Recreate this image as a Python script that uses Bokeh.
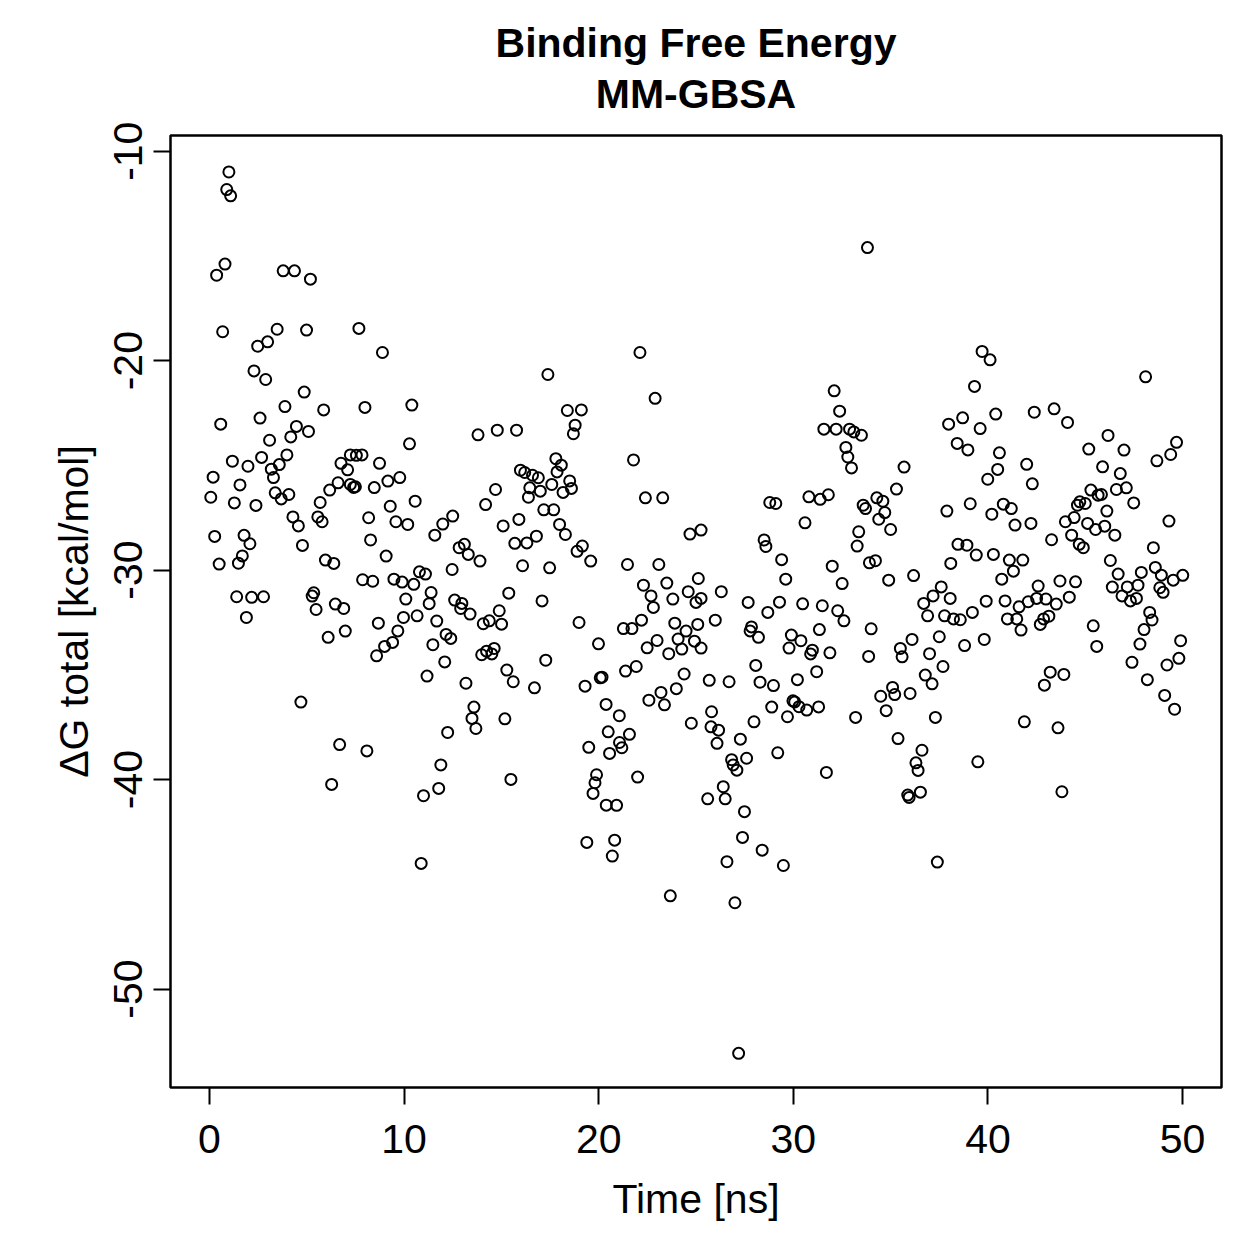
from bokeh.plotting import figure
from bokeh.models import Range1d, FixedTicker, Title
from bokeh.embed import file_html
from bokeh.resources import INLINE

time_ns = [
    1.0, 0.89, 1.09, 0.8, 0.37, 3.79, 4.37, 5.19, 0.68, 2.48,
    2.99, 3.48, 4.99, 7.68, 8.89, 2.29, 2.89, 4.87, 3.88, 5.87,
    7.99, 10.4, 0.58, 2.6, 4.47, 5.09, 4.18, 3.09, 10.28, 3.98,
    2.68, 1.18, 7.24, 7.55, 7.84, 6.76, 8.74,
    1.98, 3.18, 3.59, 3.29, 0.19, 1.57, 0.07, 1.28, 2.39, 3.38,
    3.69, 4.08, 7.1, 6.61, 7.24, 7.41, 7.5, 6.18, 8.47, 9.17,
    9.78, 10.57, 9.29, 5.69, 5.57, 5.79, 4.29, 4.57, 8.18, 9.58,
    10.19, 11.99, 11.58, 12.5, 0.27, 1.78, 2.08, 4.78, 8.28, 9.08,
    0.5, 1.69, 1.49, 5.96, 6.39, 7.87, 8.39, 9.48, 9.9, 10.5,
    10.79, 11.1, 12.47, 11.39, 11.29, 12.6, 1.4, 2.17, 2.78, 1.9,
    5.36, 5.28, 5.48, 6.47, 6.9, 10.09, 9.97, 10.67, 11.68, 12.16,
    12.4, 8.68, 9.68, 9.41, 9.0, 8.59, 11.48, 12.09, 11.18, 6.1,
    6.98, 4.7, 12.24, 6.69, 8.09, 11.89,
    6.28, 11.78, 11.0, 10.88,
    22.12, 17.39, 22.9, 18.39, 19.11, 18.79, 18.7, 13.8, 14.79, 15.78, 17.8, 21.79,
    18.08, 17.86, 15.98, 16.2, 16.6, 16.9, 17.59, 16.46, 17.0, 16.39,
    18.51, 18.6, 18.17, 14.7, 14.19, 17.18, 17.69, 15.9, 15.09, 17.99,
    18.29, 22.4, 23.29, 24.69, 25.26, 15.69, 16.31, 16.8, 12.83, 13.1,
    13.3, 13.9, 19.16, 18.89, 19.59, 16.09, 17.48, 21.48, 23.09, 15.38,
    17.09, 12.97, 12.91, 13.39, 14.07, 14.38, 14.89, 15.01, 18.99, 19.99,
    22.3, 22.69, 22.81, 23.5, 23.81, 24.6, 25.12, 25.0, 25.26, 22.2,
    21.27, 21.71, 23.91, 24.49, 25.09, 23.0, 22.49, 24.08, 24.27, 23.6,
    24.92, 25.26, 13.99, 14.24, 14.51, 14.63, 15.28, 15.61, 17.28, 13.18,
    16.7, 19.3, 20.08, 20.17, 21.38, 21.93, 24.39, 23.99, 22.58, 23.2,
    23.38, 24.76, 13.59, 13.49, 13.69, 15.18, 20.38, 21.06, 20.49, 21.58,
    21.07, 21.19, 19.49, 20.56,
    15.49, 19.89, 19.81, 19.71, 22.0, 20.39, 20.92, 19.39, 20.82, 20.7, 23.68,
    33.81, 32.1, 32.38, 31.57, 32.2, 32.89, 33.11, 33.5, 32.7, 32.8,
    32.99, 35.69, 35.3, 37.89, 28.79, 29.1, 30.8, 31.38, 31.8, 33.59,
    33.71, 34.29, 34.6, 34.7, 34.39, 35.0, 30.6, 33.36, 33.28, 28.5,
    28.59, 29.4, 33.91, 34.22, 32.0, 36.18, 34.9, 29.61, 32.51, 26.3,
    25.99, 27.68, 28.69, 29.29, 30.48, 31.49, 32.28, 32.6, 36.7, 37.18,
    37.6, 38.06, 36.9, 37.77, 27.85, 27.78, 28.21, 31.34, 34.0, 29.9,
    30.39, 29.78, 30.98, 30.89, 31.88, 36.1, 35.5, 35.59, 33.87, 37.5,
    37.0, 37.69, 28.07, 31.2, 25.68, 26.7, 28.29, 28.98, 30.21, 36.78,
    37.13, 35.1, 35.21, 34.49, 36.0, 34.77, 29.98, 30.07, 30.29, 30.69,
    31.3, 28.89, 29.7, 27.98, 25.8, 25.77, 26.16, 26.08, 27.28, 26.83,
    27.6, 29.2, 33.2, 37.3, 35.38, 36.61, 36.3,
    26.91, 27.1, 31.7, 26.4, 25.6, 26.5, 27.49, 27.39, 28.4, 26.59,
    29.49, 27.0, 27.19, 36.41, 35.88, 35.95, 36.53, 37.4,
    39.7, 40.11, 39.31, 48.1, 38.7, 37.98, 39.6, 40.4, 42.38, 43.4,
    44.09, 38.42, 38.97, 40.59, 45.18, 46.17, 46.99, 49.69, 49.39, 48.68,
    41.99,
    40.5, 39.99, 42.28, 45.89, 46.8, 46.6, 47.11, 47.49, 49.3, 39.09,
    40.2, 40.79, 41.2, 41.39, 42.21, 45.29, 45.66, 45.83, 44.72, 44.6,
    45.0, 46.11, 43.98, 44.43, 44.3, 45.12, 45.53, 46.0, 46.52, 43.27,
    44.69, 44.9, 48.5, 38.46, 38.92, 39.4, 40.28, 38.09, 41.1, 41.79,
    41.31, 40.71, 46.29, 46.69, 47.88, 48.6, 48.91, 49.52, 50.01, 42.58,
    43.7, 44.5, 46.39, 47.16, 47.71, 46.89, 47.32, 47.63, 48.83, 49.0,
    39.91, 40.88, 41.6, 42.07, 42.5, 42.98, 43.51, 44.18, 38.23, 38.58,
    39.2, 41.0, 41.48, 41.7, 42.69, 42.86, 43.13, 48.31, 48.43, 48.02,
    45.41, 38.8, 39.81, 45.59, 47.81, 49.9, 49.81, 49.2, 47.4, 43.2,
    43.9, 42.9, 48.19, 49.08, 49.59, 41.87, 43.6, 39.48, 43.8,
]

dg_total = [
    -10.99, -11.83, -12.13, -15.39, -15.92, -15.71, -15.71, -16.11, -18.62, -19.31,
    -19.10, -18.5, -18.54, -18.46, -19.61, -20.49, -20.9, -21.5, -22.19, -22.35,
    -22.23, -22.12, -23.03, -22.74, -23.14, -23.38, -23.64, -23.8, -23.97, -24.5,
    -24.62, -24.8, -24.5, -24.52, -24.5, -24.9, -24.9,
    -25.04, -25.18, -24.96, -25.58, -25.56, -25.93, -26.52, -26.79, -26.91, -26.31,
    -26.6, -26.39, -25.21, -25.83, -25.91, -26.05, -26.02, -26.18, -26.06, -25.75,
    -25.58, -26.71, -26.95, -26.77, -27.46, -27.69, -27.46, -27.89, -27.5, -27.69,
    -27.82, -27.8, -28.33, -27.42, -28.39, -28.34, -28.74, -28.82, -28.56, -29.33,
    -29.71, -29.32, -29.67, -29.52, -29.68, -30.46, -30.53, -30.43, -30.57, -30.68,
    -30.08, -30.19, -29.97, -31.07, -31.6, -31.43, -31.27, -31.3, -31.27, -32.26,
    -31.08, -31.24, -31.88, -31.62, -31.83, -31.38, -32.26, -32.18, -32.43, -33.07,
    -33.26, -32.53, -32.9, -33.45, -33.64, -34.09, -33.56, -34.38, -35.06, -33.21,
    -32.91, -36.3, -37.75, -38.33, -38.63, -39.3,
    -40.23, -40.42, -40.77, -44.0,
    -19.61, -20.66, -21.8, -22.38, -22.35, -23.08, -23.49, -23.54, -23.32, -23.32, -24.68, -24.74,
    -24.99, -25.31, -25.23, -25.34, -25.47, -25.59, -25.91, -26.07, -26.23, -26.52,
    -25.74, -26.1, -26.29, -26.15, -26.87, -27.12, -27.12, -27.58, -27.89, -27.82,
    -28.3, -26.55, -26.55, -28.28, -28.09, -28.72, -28.7, -28.38, -28.93, -28.77,
    -29.25, -29.57, -28.85, -29.1, -29.57, -29.79, -29.89, -29.73, -29.73, -31.1,
    -31.47, -31.59, -31.83, -32.1, -32.56, -32.42, -31.94, -32.58, -32.5, -33.52,
    -30.72, -31.23, -31.78, -30.62, -31.38, -31.03, -30.4, -31.54, -31.35, -32.39,
    -32.79, -32.79, -32.53, -32.91, -32.59, -33.36, -33.71, -33.29, -33.77, -33.99,
    -33.39, -33.72, -34.04, -33.87, -34.0, -33.74, -34.77, -35.33, -34.3, -35.4,
    -35.62, -35.54, -35.14, -35.11, -34.82, -34.6, -34.96, -35.66, -36.21, -35.84,
    -36.43, -37.31, -36.54, -37.08, -37.56, -37.1, -36.41, -36.95, -37.72, -37.84,
    -38.23, -38.48, -38.46, -38.75,
    -39.99, -39.77, -40.15, -40.66, -39.88, -41.22, -41.23, -43.0, -42.89, -43.65, -45.55,
    -14.6, -21.44, -22.41, -23.27, -23.27, -23.27, -23.4, -23.56, -24.14, -24.6,
    -25.12, -25.08, -26.13, -27.18, -26.77, -26.82, -26.5, -26.62, -26.4, -26.9,
    -27.06, -26.55, -26.71, -27.25, -27.57, -28.06, -27.74, -28.17, -28.85, -28.56,
    -28.87, -29.5, -29.65, -29.55, -29.81, -30.26, -30.48, -30.43, -30.64, -31.03,
    -32.39, -31.54, -32.02, -31.53, -31.61, -31.7, -31.94, -32.42, -31.59, -31.23,
    -30.8, -31.35, -32.18, -32.18, -32.71, -32.9, -33.21, -32.84, -32.8, -33.1,
    -33.37, -33.72, -33.82, -34.0, -33.95, -33.31, -33.74, -34.14, -34.12, -33.18,
    -33.99, -34.6, -34.55, -34.85, -35.26, -35.33, -35.35, -35.51, -35.23, -35.01,
    -35.43, -35.6, -35.94, -36.02, -35.89, -36.71, -36.24, -36.29, -36.52, -36.68,
    -36.53, -36.54, -37.0, -37.24, -36.76, -37.48, -37.64, -38.27, -38.07, -39.05,
    -38.98, -38.72, -37.03, -37.03, -38.04, -38.6, -39.2,
    -39.3, -39.55, -39.66, -40.34, -40.92, -40.92, -41.53, -42.76, -43.37, -43.92,
    -44.1, -45.88, -53.07, -39.56, -40.74, -40.85, -40.6, -43.94,
    -19.56, -19.96, -21.23, -20.77, -22.73, -23.03, -23.24, -22.55, -22.46, -22.3,
    -22.95, -23.95, -24.26, -24.4, -24.22, -23.57, -24.27, -23.9, -24.48, -24.78,
    -24.95,
    -25.19, -25.66, -25.88, -25.07, -25.39, -26.15, -26.07, -26.79, -27.66, -26.83,
    -27.33, -26.85, -27.06, -27.85, -27.77, -26.18, -26.42, -26.39, -26.74, -26.9,
    -26.82, -27.18, -27.69, -27.49, -28.33, -27.77, -28.06, -27.9, -28.33, -28.55,
    -28.77, -28.93, -28.93, -28.77, -28.81, -29.28, -29.25, -29.68, -29.52, -29.52,
    -30.05, -30.43, -29.54, -30.19, -30.11, -29.87, -30.24, -30.48, -30.25, -30.76,
    -30.52, -30.56, -30.81, -30.8, -30.72, -31.23, -31.47, -31.35, -30.84, -31.06,
    -31.48, -31.47, -31.75, -31.51, -31.35, -31.38, -31.62, -31.29, -32.33, -32.37,
    -32.02, -32.33, -32.33, -32.86, -32.59, -32.33, -32.2, -32.02, -32.38, -32.84,
    -32.66, -33.6, -33.31, -33.64, -33.53, -33.37, -34.21, -34.53, -34.4, -34.87,
    -34.98, -35.49, -35.23, -35.98, -36.64, -37.24, -37.53, -39.15, -40.58,
]

x_ticks = [0, 10, 20, 30, 40, 50]
y_ticks = [-10, -20, -30, -40, -50]
y_tick_labels = ["-10", "-20", "-30", "-40", "-50"]
title_line1 = "Binding Free Energy"
title_line2 = "MM-GBSA"
x_label = "Time [ns]"
y_label = "\u0394G total [kcal/mol]"

FONT = "Liberation Sans"
FS = "41px"

p = figure(width=1259, height=1259,
           x_range=Range1d(-2, 52), y_range=Range1d(-54.7, -9.25),
           output_backend="svg", toolbar_location=None,
           min_border_left=170, min_border_right=38,
           min_border_top=135, min_border_bottom=172)

p.background_fill_color = "white"
p.border_fill_color = "white"
p.outline_line_color = "black"
p.outline_line_width = 2.5
p.xgrid.visible = False
p.ygrid.visible = False

# titles: the later-added Title sits closer to the frame
p.title.text = title_line1
p.title.align = "center"
p.title.text_font = FONT
p.title.text_font_size = FS
p.title.text_font_style = "bold"
p.title.text_color = "black"
p.title.standoff = -33
p.add_layout(Title(text=title_line2, align="center", text_font=FONT,
                   text_font_size=FS, text_font_style="bold",
                   text_color="black", standoff=38), "above")

for ax in (p.xaxis[0], p.yaxis[0]):
    ax.axis_line_color = None
    ax.major_tick_line_color = "black"
    ax.major_tick_line_width = 2
    ax.major_tick_out = 17
    ax.major_tick_in = 0
    ax.minor_tick_line_color = None
    ax.major_label_text_font = FONT
    ax.major_label_text_font_size = FS
    ax.major_label_text_color = "black"
    ax.axis_label_text_font = FONT
    ax.axis_label_text_font_size = FS
    ax.axis_label_text_font_style = "normal"
    ax.axis_label_text_color = "black"

p.xaxis.ticker = FixedTicker(ticks=x_ticks)
p.yaxis.ticker = FixedTicker(ticks=y_ticks)
p.yaxis.major_label_overrides = {t: l for t, l in zip(y_ticks, y_tick_labels)}
p.yaxis.major_label_orientation = "vertical"
p.xaxis.axis_label = x_label
p.yaxis.axis_label = y_label
p.xaxis.major_label_standoff = 20
p.xaxis.axis_label_standoff = 20
p.yaxis.major_label_standoff = 11
p.yaxis.axis_label_standoff = 15

p.scatter(x=time_ns, y=dg_total, marker="circle", size=11,
          fill_color=None, line_color="black", line_width=2)

open("out.html", "w").write(file_html(p, INLINE))
